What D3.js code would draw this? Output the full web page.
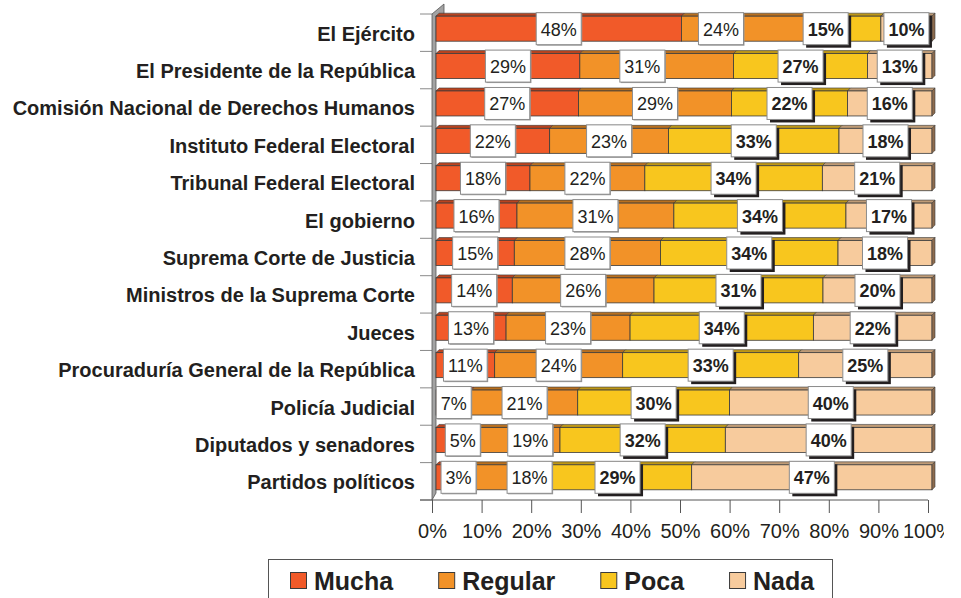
<!DOCTYPE html>
<html><head><meta charset="utf-8">
<script src="https://cdn.jsdelivr.net/npm/d3@7"></script>
<style>
body{margin:0;background:#fff;overflow:hidden}
svg{display:block}
text{font-family:"Liberation Sans",Arial,Helvetica,sans-serif;fill:#231f20}
</style>
</head><body>
<svg id="c" width="961" height="598"></svg>
<script>
// ---- data ----
const categories = [
  "El Ejército",
  "El Presidente de la República",
  "Comisión Nacional de Derechos Humanos",
  "Instituto Federal Electoral",
  "Tribunal Federal Electoral",
  "El gobierno",
  "Suprema Corte de Justicia",
  "Ministros de la Suprema Corte",
  "Jueces",
  "Procuraduría General de la República",
  "Policía Judicial",
  "Diputados y senadores",
  "Partidos políticos"
];
const seriesNames = ["Mucha", "Regular", "Poca", "Nada"];
const mucha   = [48, 29, 27, 22, 18, 16, 15, 14, 13, 11, 7, 5, 3];
const regular = [24, 31, 29, 23, 22, 31, 28, 26, 23, 24, 21, 19, 18];
const poca    = [15, 27, 22, 33, 34, 34, 34, 31, 34, 33, 30, 32, 29];
const nada    = [10, 13, 16, 18, 21, 17, 18, 20, 22, 25, 40, 40, 47];
const xTickValues = [0, 0.1, 0.2, 0.3, 0.4, 0.5, 0.6, 0.7, 0.8, 0.9, 1];

// label nudges (percentage points along the axis), as in the original layout
const labelNudge = {"0-1": -4.4, "0-2": -3.4, "1-1": -2.9, "11-0": 2.8, "11-1": 3.9, "12-0": 3.0, "12-1": 6.5};

// ---- styles ----
const colors = {Mucha: "#F15A29", Regular: "#F29228", Poca: "#F8C61E", Nada: "#F7CB9D"};
const topColors = {Mucha: "#B9431F", Regular: "#B9701F", Poca: "#BE9716", Nada: "#BF9B76"};
const sideColors = {Mucha: "#8E3418", Regular: "#8E5718", Poca: "#927412", Nada: "#8E6C4E"};

const svg = d3.select("#c");
const values = [mucha, regular, poca, nada];
const rows = categories.map((c, i) => {
  const o = {cat: c};
  seriesNames.forEach((s, k) => o[s] = values[k][i]);
  return o;
});
const stacked = d3.stack().keys(seriesNames).offset(d3.stackOffsetExpand)(rows);

const x = d3.scaleLinear().domain([0, 1]).range([432, 928]);
const y = d3.scaleBand().domain(categories).range([14, 500]);
const depth = 4;      // 3D shift of bar front
const barH = 25;
const topD = 3;       // top face depth

// category ticks on the left
const g0 = svg.append("g");
const bounds = categories.map(c => y(c)).concat([y.range()[1]]);
g0.selectAll("line").data(bounds).join("line")
  .attr("x1", 420).attr("x2", 432)
  .attr("y1", d => d).attr("y2", d => d)
  .attr("stroke", "#8a8a8a").attr("stroke-width", 1);

// wall
const wx = x(0), wTop = y.range()[0], wBot = y.range()[1];
svg.append("path")
  .attr("d", `M${wx},${wBot} L${wx},${wTop} L${wx+12},${wTop-10} L${wx+12},${wTop} L${wx+depth},${wTop+2} L${wx+depth},${wBot-7} Z`)
  .attr("fill", "#A3A3A3").attr("stroke", "#555").attr("stroke-width", 0.8);

// category labels
svg.append("g").selectAll("text").data(categories).join("text")
  .attr("x", 415).attr("y", d => y(d) + y.bandwidth() / 2 + 1)
  .attr("text-anchor", "end").attr("dominant-baseline", "central")
  .style("font-size", "20px").style("font-weight", "bold")
  .text(d => d);

// bars
const gb = svg.append("g");
categories.forEach((c, i) => {
  const yc = y(c) + y.bandwidth() / 2 - depth;
  const top = yc - barH / 2, bot = yc + barH / 2;
  stacked.forEach((s, k) => {
    const name = s.key;
    const x0 = x(s[i][0]) + depth, x1 = x(s[i][1]) + depth;
    gb.append("path")
      .attr("d", `M${x0},${top} L${x0+topD},${top-topD} L${x1+topD},${top-topD} L${x1},${top} Z`)
      .attr("fill", topColors[name]).attr("stroke", "#3a3a3a").attr("stroke-width", 0.6);
    gb.append("rect")
      .attr("x", x0).attr("y", top).attr("width", x1 - x0).attr("height", barH)
      .attr("fill", colors[name]).attr("stroke", "#3a3a3a").attr("stroke-width", 0.8);
    if (k === stacked.length - 1) {
      gb.append("path")
        .attr("d", `M${x1},${top} L${x1+topD},${top-topD} L${x1+topD},${bot-topD} L${x1},${bot} Z`)
        .attr("fill", sideColors[name]).attr("stroke", "#3a3a3a").attr("stroke-width", 0.6);
    }
  });
});

// axis
const ax = svg.append("g").attr("transform", `translate(0,${wBot})`);
ax.append("line").attr("x1", 420).attr("x2", x(1)).attr("y1", 0).attr("y2", 0)
  .attr("stroke", "#555").attr("stroke-width", 1);
svg.append("defs").append("clipPath").attr("id", "clipR")
  .append("rect").attr("x", 0).attr("y", 0).attr("width", 944).attr("height", 598);
const axis = d3.axisBottom(x).tickValues(xTickValues).tickSize(13).tickSizeOuter(0)
  .tickFormat(d3.format(".0%"));
const axg = ax.append("g").attr("clip-path", "url(#clipR)").call(axis);
axg.select(".domain").remove();
axg.selectAll(".tick line").attr("stroke", "#555");
axg.selectAll(".tick text").attr("y", 20).attr("dy", "0.9em")
  .style("font-size", "20px").style("font-family", '"Liberation Sans",Arial,sans-serif').attr("fill", "#231f20");

// data labels
const gl = svg.append("g");
categories.forEach((c, i) => {
  const yc = y(c) + y.bandwidth() / 2 - depth;
  stacked.forEach((s, k) => {
    const bold = k >= 2;
    const nudge = labelNudge[i + "-" + k] || 0;
    const cx = (x(s[i][0]) + x(s[i][1])) / 2 + depth + (x(nudge / 100) - x(0));
    const g = gl.append("g");
    const t = g.append("text").attr("x", cx).attr("y", yc + 1)
      .attr("text-anchor", "middle").attr("dominant-baseline", "central")
      .style("font-size", "18px").style("font-weight", bold ? "bold" : "normal")
      .text(values[k][i] + "%");
    const w = t.node().getComputedTextLength() + 9, h = 32;
    if (bold) {
      g.insert("rect", "text").attr("x", cx - w / 2 + 3).attr("y", yc - h / 2 + 3)
        .attr("width", w).attr("height", h).attr("fill", "#231f20");
    } else {
      g.insert("rect", "text").attr("x", cx - w / 2 + 1).attr("y", yc - h / 2 + 1)
        .attr("width", w).attr("height", h).attr("fill", "#9a9a9a");
    }
    g.insert("rect", "text").attr("x", cx - w / 2).attr("y", yc - h / 2)
      .attr("width", w).attr("height", h).attr("fill", "#fff")
      .attr("stroke", "#8c8c8c").attr("stroke-width", 1);
  });
});

// legend
const lg = svg.append("g");
lg.append("rect").attr("x", 268.5).attr("y", 559.5).attr("width", 564).attr("height", 60)
  .attr("fill", "#fff").attr("stroke", "#555").attr("stroke-width", 1);
let lx = 290;
seriesNames.forEach(name => {
  lg.append("rect").attr("x", lx + 0.5).attr("y", 572.5).attr("width", 16).attr("height", 16)
    .attr("fill", colors[name]).attr("stroke", "#3a3a3a").attr("stroke-width", 1);
  const t = lg.append("text").attr("x", lx + 24).attr("y", 581)
    .attr("dominant-baseline", "central")
    .style("font-size", "25px").style("font-weight", "bold").text(name);
  lx += 24 + t.node().getComputedTextLength() + 45;
});
</script>
</body></html>
